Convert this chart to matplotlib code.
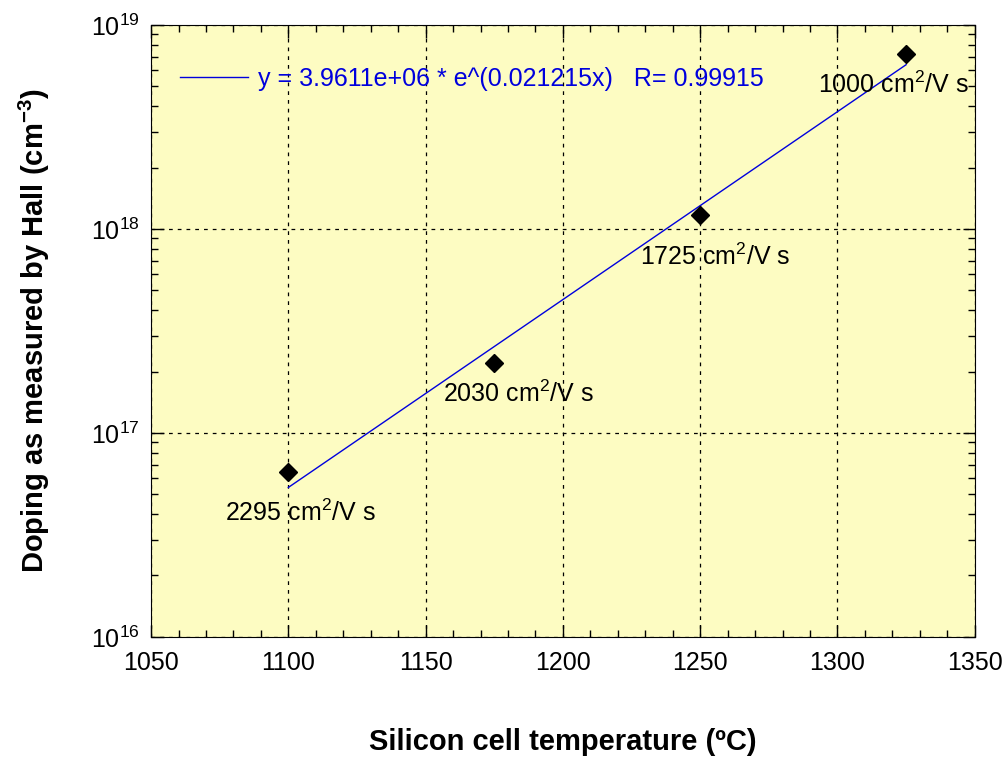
import numpy as np
import matplotlib.pyplot as plt
from matplotlib.ticker import MultipleLocator, LogLocator, NullFormatter

plt.rcParams['font.family'] = ['Liberation Sans', 'DejaVu Sans']
plt.rcParams['mathtext.fontset'] = 'custom'
plt.rcParams['mathtext.rm'] = 'Liberation Sans'
plt.rcParams['mathtext.it'] = 'Liberation Sans:italic'
plt.rcParams['mathtext.bf'] = 'Liberation Sans:bold'

# Data
temperature = [1100, 1175, 1250, 1325]
doping = [6.4e16, 2.2e17, 1.17e18, 7.2e18]
mobility = ['2295', '2030', '1725', '1000']
label_offsets = [(9, -29), (17, -22), (11, -30), (-9, -22)]   # points

# Exponential fit stated on the chart
fit_a = 3.9611e6
fit_b = 0.021215
fit_r = 0.99915

fig = plt.figure(figsize=(10.07, 7.6), dpi=100)
ax = fig.add_axes([0.150, 0.162, 0.818, 0.805])
ax.set_facecolor('#fdfcc2')

t = np.array(temperature, dtype=float)
fit = fit_a * np.exp(fit_b * t)
ax.plot(t, fit, color='#0000dd', lw=1.0,
        label='y = 3.9611e+06 * e^(0.021215x)   R= 0.99915')
ax.plot(temperature, doping, 'D', color='black', ms=9, zorder=5)

for x, y, m, off in zip(temperature, doping, mobility, label_offsets):
    ax.annotate(m + ' cm$^2$/V s', (x, y), xytext=off, textcoords='offset points',
                ha='center', va='center', fontsize=18)

ax.set_yscale('log')
ax.set_xlim(1050, 1350)
ax.set_ylim(1e16, 1e19)
ax.xaxis.set_major_locator(MultipleLocator(50))
ax.xaxis.set_minor_locator(MultipleLocator(10))
ax.yaxis.set_major_locator(LogLocator(base=10, numticks=10))
ax.yaxis.set_minor_locator(LogLocator(base=10, subs=np.arange(2, 10), numticks=20))
ax.yaxis.set_minor_formatter(NullFormatter())
ax.tick_params(which='both', direction='in', top=True, right=True, labelsize=18, color='black')
ax.tick_params(which='major', length=9, width=1)
ax.tick_params(which='minor', length=5, width=1)
ax.tick_params(axis='x', pad=10)
ax.tick_params(axis='y', pad=8)
ax.grid(True, which='major', color='black', ls=(0, (3, 4)), lw=0.9)

ax.set_xlabel('Silicon cell temperature (ºC)', fontsize=21, fontweight='bold', labelpad=38)
ax.set_ylabel('Doping as measured by Hall (cm$^{\\mathbf{-3}}$)', fontsize=21,
              fontweight='bold', labelpad=28)

leg = ax.legend(loc='upper left', bbox_to_anchor=(0.008, 0.968), frameon=False,
                fontsize=18, handlelength=2.7, handletextpad=0.4)
for txt in leg.get_texts():
    txt.set_color('#0000dd')

plt.savefig('out.png', dpi=100)
